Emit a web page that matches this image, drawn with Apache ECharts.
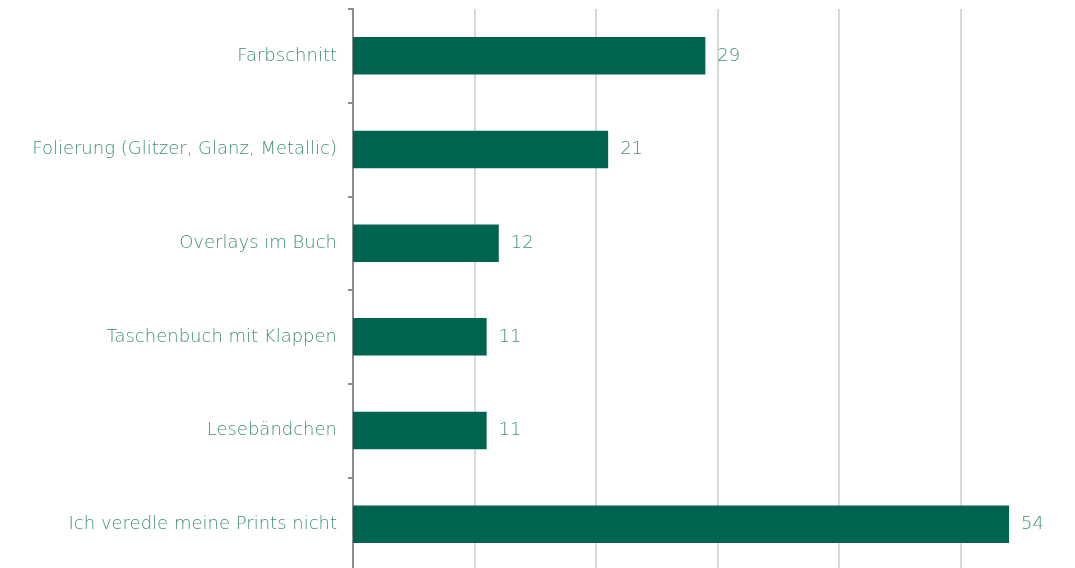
<!DOCTYPE html>
<html>
<head>
<meta charset="utf-8">
<script src="https://cdn.jsdelivr.net/npm/echarts@6/dist/echarts.min.js"></script>
<style>
  html, body { margin: 0; padding: 0; background: #fff; }
  #main { width: 1075px; height: 568px; }
</style>
</head>
<body>
<div id="main"></div>
<script>
  var categories = ['Farbschnitt', 'Folierung (Glitzer, Glanz, Metallic)', 'Overlays im Buch',
    'Taschenbuch mit Klappen', 'Lesebändchen', 'Ich veredle meine Prints nicht'];
  var values = [29, 21, 12, 11, 11, 54];

  var myChart = echarts.init(document.getElementById('main'));
  var option = {
    animation: false,
    grid: {
      left: 353,
      top: 9,
      width: 729,
      height: 562,
      outerBoundsMode: 'none'
    },
    xAxis: {
      type: 'value',
      min: 0,
      max: 60,
      interval: 10,
      axisLabel: { show: false },
      axisLine: { show: false },
      axisTick: { show: false },
      splitLine: {
        show: true,
        lineStyle: { color: '#d9d9d9', width: 2 }
      }
    },
    yAxis: {
      type: 'category',
      inverse: true,
      data: categories,
      axisLine: {
        show: true,
        lineStyle: { color: '#8c8c8c', width: 2 }
      },
      axisTick: {
        show: true,
        length: 5,
        lineStyle: { color: '#8c8c8c', width: 2 }
      },
      axisLabel: {
        color: '#3f8f7c',
        fontSize: 18,
        fontFamily: 'DejaVu Sans',
        fontWeight: 200,
        margin: 16
      }
    },
    series: [
      {
        type: 'bar',
        data: values,
        barCategoryGap: '60%',
        itemStyle: { color: '#006450' },
        label: {
          show: true,
          position: 'right',
          distance: 12,
          color: '#3f8f7c',
          fontSize: 18,
          fontFamily: 'DejaVu Sans',
          fontWeight: 200
        }
      }
    ]
  };
  myChart.setOption(option);
</script>
</body>
</html>
